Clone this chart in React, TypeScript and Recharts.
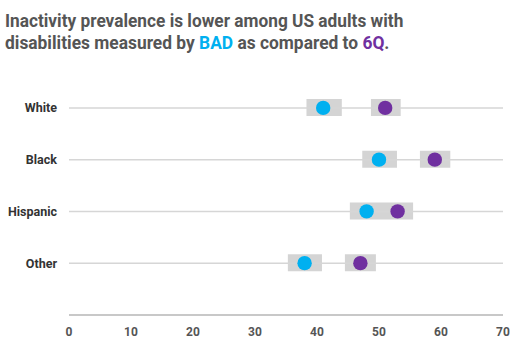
import React, { useLayoutEffect, useRef, useState } from 'react';
import { ComposedChart, Bar, Line, XAxis, YAxis, ReferenceLine } from 'recharts';

const categories = ['White', 'Black', 'Hispanic', 'Other'];
const badValues = [41, 50, 48, 38];
const sixQValues = [51, 59, 53, 47];
const badLow = [38.3, 47.3, 45.3, 35.3];
const badHigh = [44, 52.9, 50.8, 40.8];
const sixQLow = [48.7, 56.6, 50.8, 44.5];
const sixQHigh = [53.5, 61.5, 55.5, 49.5];
const xTicks = [0, 10, 20, 30, 40, 50, 60, 70];

const data = categories.map((c, i) => ({
  name: c,
  bad: badValues[i],
  sixQ: sixQValues[i],
  badCI: [badLow[i], badHigh[i]],
  sixQCI: [sixQLow[i], sixQHigh[i]],
}));

const FONT = 'Roboto, "Noto Sans", sans-serif';

function FitLine({ top, target, children }: { top: number; target: number; children: React.ReactNode }) {
  const ref = useRef<HTMLDivElement>(null);
  const [scale, setScale] = useState(1);
  useLayoutEffect(() => {
    if (ref.current) {
      const w = ref.current.scrollWidth;
      if (w > 0) setScale(target / w);
    }
  }, [target]);
  return (
    <div
      ref={ref}
      style={{
        position: 'absolute',
        left: 5,
        top,
        fontFamily: FONT,
        fontWeight: 700,
        fontSize: 19,
        lineHeight: '22px',
        color: '#555',
        whiteSpace: 'nowrap',
        display: 'inline-block',
        transform: `scaleX(${scale})`,
        transformOrigin: '0 0',
      }}
    >
      {children}
    </div>
  );
}

export default function App() {
  return (
    <div style={{ position: 'absolute', left: 0, top: 0, width: 510, height: 350, background: '#fff' }}>
      <FitLine top={10} target={398}>
        Inactivity prevalence is lower among US adults with
      </FitLine>
      <FitLine top={32} target={384}>
        disabilities measured by <span style={{ color: '#00B0F0' }}>BAD</span> as compared to{' '}
        <span style={{ color: '#7030A0' }}>6Q</span>.
      </FitLine>
      <div style={{ position: 'absolute', left: 0, top: 60 }}>
        <ComposedChart
          width={510}
          height={290}
          layout="vertical"
          data={data}
          margin={{ top: 22, right: 7, bottom: 0, left: 0 }}
          barGap={-17}
          barSize={17}
        >
          <XAxis
            type="number"
            domain={[0, 70]}
            ticks={xTicks}
            interval={0}
            height={35}
            tickLine={false}
            axisLine={{ stroke: '#c8c8c8', strokeWidth: 2 }}
            tick={{ fill: '#555', fontSize: 12, fontWeight: 700, fontFamily: FONT }}
            tickMargin={6}
          />
          <YAxis
            type="category"
            dataKey="name"
            width={69}
            padding={{ top: 0, bottom: 26 }}
            tickLine={false}
            axisLine={false}
            tickMargin={6}
            tick={{ fill: '#333', fontSize: 12.5, fontWeight: 700, fontFamily: FONT }}
          />
          {categories.map((c) => (
            <ReferenceLine key={c} y={c} stroke="#d6d6d6" strokeWidth={1.5} />
          ))}
          <Bar dataKey="badCI" fill="#d4d4d4" isAnimationActive={false} />
          <Bar dataKey="sixQCI" fill="#d4d4d4" isAnimationActive={false} />
          <Line
            dataKey="bad"
            stroke="none"
            dot={{ r: 7.2, fill: '#00B0F0', stroke: 'none' }}
            activeDot={false}
            isAnimationActive={false}
          />
          <Line
            dataKey="sixQ"
            stroke="none"
            dot={{ r: 7.2, fill: '#7030A0', stroke: 'none' }}
            activeDot={false}
            isAnimationActive={false}
          />
        </ComposedChart>
      </div>
    </div>
  );
}
